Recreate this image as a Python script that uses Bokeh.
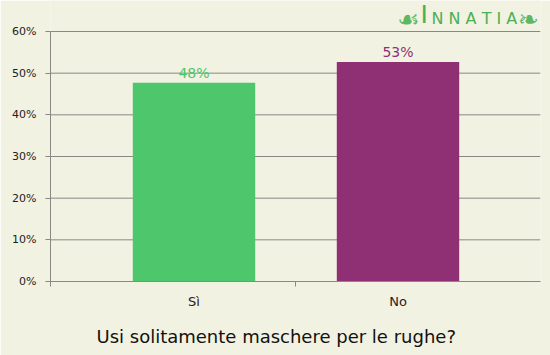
from bokeh.plotting import figure
from bokeh.models import FixedTicker, Label, Range1d, Title
from bokeh.core.properties import value
from bokeh.embed import file_html
from bokeh.resources import INLINE

categories = ["Sì", "No"]
values = [47.7, 52.7]
value_labels = ["48%", "53%"]
colors = ["#4ec66b", "#8f2f74"]
y_ticks = [0, 10, 20, 30, 40, 50, 60]
y_tick_labels = ["0%", "10%", "20%", "30%", "40%", "50%", "60%"]
title_text = "Usi solitamente maschere per le rughe?"

BG = "#f2f2e2"
GRID = "#888888"
FONT = "DejaVu Sans"

FRAME_W, FRAME_H = 490, 281
X0, X1 = -0.2034, 2.1985
Y_TOP = 60 * 281 / 250.0
p = figure(frame_width=FRAME_W, frame_height=FRAME_H, output_backend="svg", toolbar_location=None,
           x_range=Range1d(X0, X1), y_range=Range1d(0, Y_TOP),
           min_border_left=50, min_border_right=10, min_border_top=0, min_border_bottom=74)
p.background_fill_color = BG
p.border_fill_color = BG
p.outline_line_color = None

# horizontal grid lines at the value ticks
p.xgrid.visible = False
p.ygrid.visible = False
p.segment(x0=[X0] * len(y_ticks), x1=[X1] * len(y_ticks), y0=y_ticks, y1=y_ticks,
          line_color=GRID, line_width=1)

xs = [i + 0.5 for i in range(len(categories))]
p.vbar(x=xs, top=values, width=0.6, color=colors, line_color=None)
p.text(x=xs, y=values, text=value_labels, text_color=colors, text_align="center",
       text_baseline="bottom", y_offset=-2, text_font=value(FONT), text_font_size="14px")

ya = p.yaxis[0]
ya.bounds = (0, 60)
ya.ticker = FixedTicker(ticks=y_ticks)
ya.major_label_overrides = {t: l for t, l in zip(y_ticks, y_tick_labels)}
ya.axis_line_color = GRID
ya.major_tick_line_color = GRID
ya.major_tick_in = 0
ya.major_tick_out = 5
ya.minor_tick_line_color = None
ya.major_label_text_font = FONT
ya.major_label_text_font_size = "11px"
ya.major_label_text_color = "#222222"
ya.major_label_standoff = 9

xa = p.xaxis[0]
xa.bounds = (X0, X1)
xa.ticker = FixedTicker(ticks=xs, minor_ticks=[X0] + list(range(1, len(categories))))
xa.major_label_overrides = {x: c for x, c in zip(xs, categories)}
xa.axis_line_color = GRID
xa.major_tick_line_color = None
xa.major_tick_in = 0
xa.major_tick_out = 0
xa.minor_tick_line_color = GRID
xa.minor_tick_in = 0
xa.minor_tick_out = 5
xa.major_label_text_font = FONT
xa.major_label_text_font_size = "13px"
xa.major_label_text_color = "#222222"
xa.major_label_standoff = 7

p.add_layout(Title(text=title_text, align="left", text_font=FONT, text_font_size="18px",
                   text_font_style="normal", text_color="#111111", standoff=25, offset=46),
             "below")

px_x = FRAME_W / (X1 - X0)
px_y = 250 / 60.0

def dx(sx):
    return X0 + (sx - 50) / px_x

def dy(sy):
    return (281 - sy) / px_y

# logo
LOGO = "#4daf55"
LOGO2 = "#5cb862"
p.add_layout(Label(x=dx(420), y=dy(14), text="I",
                   text_align="left", text_baseline="middle", text_font=FONT,
                   text_font_size="25px", text_color=LOGO))
p.add_layout(Label(x=dx(431), y=dy(17.5), text="N N A T I A",
                   text_align="left", text_baseline="middle", text_font=FONT,
                   text_font_size="16px", text_color=LOGO))
p.add_layout(Label(x=dx(408), y=dy(19), text="☙",
                   text_align="center", text_baseline="middle", text_font=FONT,
                   text_font_size="25px", text_color=LOGO2))
p.add_layout(Label(x=dx(528), y=dy(19), text="❧",
                   text_align="center", text_baseline="middle", text_font=FONT,
                   text_font_size="25px", text_color=LOGO2))

open("out.html", "w").write(file_html(p, INLINE))
